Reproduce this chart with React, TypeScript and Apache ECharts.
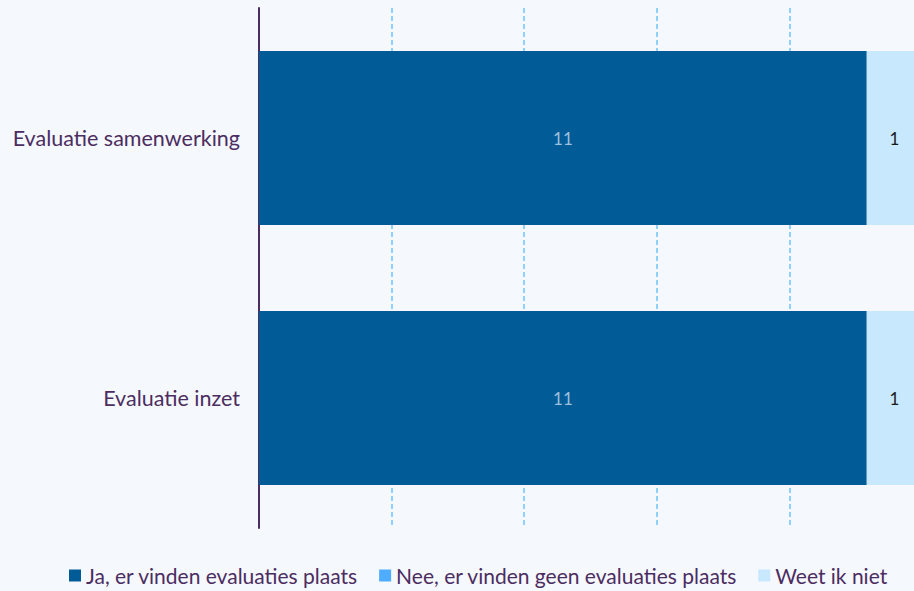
import React, { useEffect, useRef } from "react";
import * as echarts from "echarts";

const categories = ["Evaluatie samenwerking", "Evaluatie inzet"];
const seriesNames = [
  "Ja, er vinden evaluaties plaats",
  "Nee, er vinden geen evaluaties plaats",
  "Weet ik niet",
];
const jaValues = [11, 11];
const neeValues = [0, 0];
const weetValues = [1, 1];
const colors = ["#005b96", "#4fadff", "#c8e8fd"];
const labelColors = ["#9cc0dd", "#1a1a1a", "#1a1a1a"];

export default function App() {
  const ref = useRef<HTMLDivElement>(null);
  useEffect(() => {
    if (!ref.current) return;
    const chart = echarts.init(ref.current, null, { renderer: "svg" });
    const all = [jaValues, neeValues, weetValues];
    const totals = categories.map((_, i) => all.reduce((s, arr) => s + arr[i], 0));
    const series = all.map((arr, k) => ({
      name: seriesNames[k],
      type: "bar",
      stack: "total",
      barCategoryGap: "33%",
      itemStyle: { color: colors[k] },
      label: {
        show: true,
        position: "inside",
        color: labelColors[k],
        fontFamily: "Lato",
        fontSize: 17,
        formatter: (p: any) => {
          const c = arr[p.dataIndex];
          return c ? String(c) : "";
        },
      },
      data: arr.map((v, i) => ({ value: (v / totals[i]) * 100 })),
    }));
    chart.setOption({
      animation: false,
      backgroundColor: "#f5f8fd",
      textStyle: { fontFamily: "Lato" },
      grid: { left: 259, right: -1, top: 8, bottom: 63, containLabel: false },
      legend: {
        left: 64,
        bottom: 0,
        itemWidth: 12,
        itemHeight: 12,
        itemGap: 21,
        icon: "rect",
        textStyle: { color: "#4b2d61", fontSize: 21, fontFamily: "Lato" },
        data: seriesNames,
      },
      xAxis: {
        type: "value",
        min: 0,
        max: 100,
        interval: 20,
        axisLabel: { show: false },
        axisLine: { show: false },
        axisTick: { show: false },
        splitLine: { show: true, lineStyle: { color: "#8fd0ff", type: [5, 3], width: 2 } },
      },
      yAxis: {
        type: "category",
        inverse: true,
        data: categories,
        axisLine: { show: true, lineStyle: { color: "#4b2d61", width: 2 } },
        axisTick: { show: false },
        axisLabel: { color: "#4b2d61", fontSize: 21.5, fontFamily: "Lato", margin: 19 },
      },
      series,
    });
    return () => chart.dispose();
  }, []);
  return (
    <div style={{ position: "fixed", left: 0, top: 0, width: 914, height: 591, overflow: "hidden" }}>
      <div ref={ref} style={{ width: 922, height: 591 }} />
    </div>
  );
}
